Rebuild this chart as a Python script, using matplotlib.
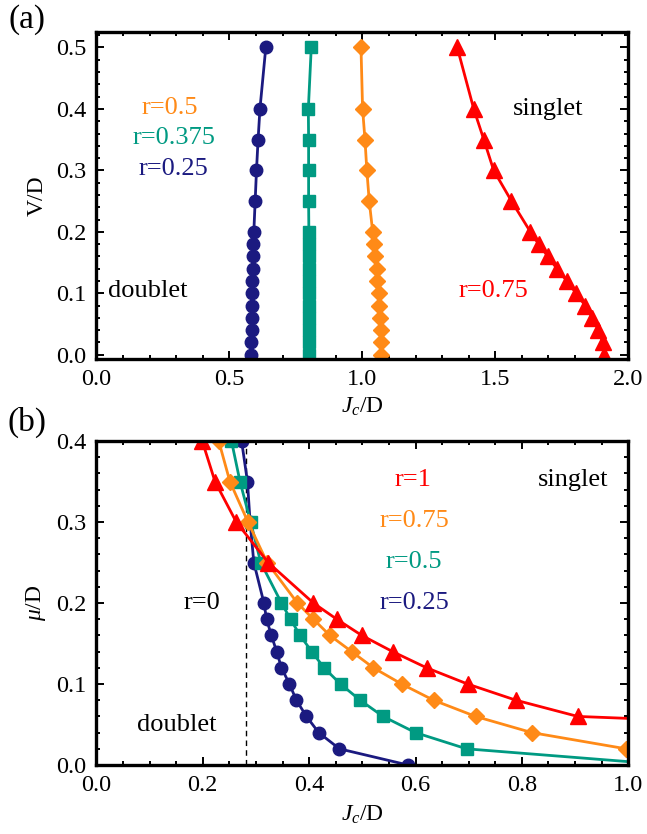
import numpy as np
import matplotlib
matplotlib.use("Agg")
import matplotlib.pyplot as plt
from matplotlib.ticker import MultipleLocator

plt.rcParams['font.family'] = ['Liberation Serif', 'DejaVu Serif']
plt.rcParams['mathtext.fontset'] = 'custom'
plt.rcParams['mathtext.rm'] = 'Liberation Serif'
plt.rcParams['mathtext.it'] = 'Liberation Serif:italic'

NAVY = '#1b1a80'
TEAL = '#009a82'
ORANGE = '#ff8a17'
RED = '#ff0000'

# ---- panel (a): V/D vs Jc/D ----
V_a = [0.0, 0.02, 0.04, 0.06, 0.08, 0.10, 0.12, 0.14, 0.16, 0.18, 0.20,
       0.25, 0.30, 0.35, 0.40, 0.50]
J_r025_a = [0.583, 0.583, 0.584, 0.584, 0.585, 0.586, 0.587, 0.588, 0.589,
            0.590, 0.592, 0.597, 0.602, 0.608, 0.615, 0.637]
J_r0375_a = [0.799, 0.799, 0.799, 0.799, 0.799, 0.799, 0.799, 0.799, 0.799,
             0.799, 0.799, 0.798, 0.798, 0.798, 0.797, 0.808]
J_r05_a = [1.072, 1.071, 1.069, 1.066, 1.064, 1.061, 1.057, 1.054, 1.049,
           1.045, 1.039, 1.026, 1.017, 1.010, 1.001, 0.995]
J_r075_a = [1.909, 1.904, 1.888, 1.865, 1.838, 1.804, 1.769, 1.732, 1.698,
            1.663, 1.632, 1.561, 1.494, 1.457, 1.419, 1.357]

# ---- panel (b): mu/D vs Jc/D ----
mu_r025 = [0.40, 0.35, 0.30, 0.25, 0.20, 0.18, 0.16, 0.14, 0.12, 0.10,
           0.08, 0.06, 0.04, 0.02, 0.0]
J_r025 = [0.273, 0.284, 0.289, 0.296, 0.315, 0.320, 0.329, 0.339, 0.348,
          0.363, 0.376, 0.395, 0.418, 0.457, 0.586]
mu_r05 = [0.40, 0.35, 0.30, 0.25, 0.20, 0.18, 0.16, 0.14, 0.12, 0.10,
          0.08, 0.06, 0.04, 0.02, 0.0]
J_r05 = [0.254, 0.270, 0.290, 0.309, 0.348, 0.365, 0.383, 0.405, 0.428,
         0.459, 0.496, 0.539, 0.600, 0.696, 1.08]
mu_r075 = [0.40, 0.35, 0.30, 0.25, 0.20, 0.18, 0.16, 0.14, 0.12, 0.10,
           0.08, 0.06, 0.04, 0.02]
J_r075 = [0.230, 0.251, 0.285, 0.321, 0.378, 0.408, 0.439, 0.480, 0.521,
          0.574, 0.634, 0.713, 0.819, 0.996]
mu_r1 = [0.40, 0.35, 0.30, 0.25, 0.20, 0.18, 0.16, 0.14, 0.12, 0.10,
         0.08, 0.06, 0.055]
J_r1 = [0.199, 0.223, 0.263, 0.323, 0.408, 0.452, 0.499, 0.557, 0.621,
        0.698, 0.789, 0.905, 1.1]
J_r0 = 0.281

fig = plt.figure(figsize=(6.47, 8.34), dpi=100)

def style(ax, xmaj, xmin, ymaj, ymin):
    for s in ax.spines.values():
        s.set_linewidth(2.4)
    ax.xaxis.set_major_locator(MultipleLocator(xmaj))
    ax.xaxis.set_minor_locator(MultipleLocator(xmin))
    ax.yaxis.set_major_locator(MultipleLocator(ymaj))
    ax.yaxis.set_minor_locator(MultipleLocator(ymin))
    ax.tick_params(which='both', direction='in', top=True, right=True,
                   labelsize=17.5, width=1.4, pad=7)
    ax.tick_params(which='major', length=6)
    ax.tick_params(which='minor', length=3)

mk = dict(lw=2, clip_on=True)

# (a)
ax1 = fig.add_axes([0.149, 0.5695, 0.822, 0.392])
ax1.plot(J_r025_a, V_a, color=NAVY, marker='o', ms=9, **mk)
ax1.plot(J_r0375_a, V_a, color=TEAL, marker='s', ms=9, **mk)
ax1.plot(J_r05_a, V_a, color=ORANGE, marker='D', ms=8, **mk)
ax1.plot(J_r075_a, V_a, color=RED, marker='^', ms=12, **mk)
ax1.set_xlim(0, 2)
ax1.set_ylim(-0.007, 0.525)
style(ax1, 0.5, 0.1, 0.1, 0.02)
ax1.xaxis.set_major_formatter(lambda v, p: f'{v:.1f}')
ax1.yaxis.set_major_formatter(lambda v, p: f'{v:.1f}')
ax1.set_xlabel('$J_c$/D', fontsize=17, labelpad=4)
ax1.set_ylabel('V/D', fontsize=17, labelpad=6)
tk = dict(fontsize=19, ha='center', va='center')
ax1.text(0.276, 0.401, 'r=0.5', color=ORANGE, **tk)
ax1.text(0.290, 0.353, 'r=0.375', color=TEAL, **tk)
ax1.text(0.290, 0.302, 'r=0.25', color=NAVY, **tk)
ax1.text(0.194, 0.103, 'doublet', color='black', **tk)
ax1.text(1.697, 0.400, 'singlet', color='black', **tk)
ax1.text(1.494, 0.103, 'r=0.75', color=RED, **tk)
fig.text(0.042, 0.976, '(a)', fontsize=24, ha='center', va='center')

# (b)
ax2 = fig.add_axes([0.149, 0.0827, 0.822, 0.3885])
ax2.axvline(J_r0, color='black', lw=1, ls=(0, (4, 3)))
ax2.plot(J_r025, mu_r025, color=NAVY, marker='o', ms=9, **mk)
ax2.plot(J_r05, mu_r05, color=TEAL, marker='s', ms=9, **mk)
ax2.plot(J_r075, mu_r075, color=ORANGE, marker='D', ms=8, **mk)
ax2.plot(J_r1, mu_r1, color=RED, marker='^', ms=12, **mk)
ax2.set_xlim(0, 1)
ax2.set_ylim(0, 0.4)
style(ax2, 0.2, 0.05, 0.1, 0.02)
ax2.xaxis.set_major_formatter(lambda v, p: f'{v:.1f}')
ax2.yaxis.set_major_formatter(lambda v, p: f'{v:.1f}')
ax2.set_xlabel('$J_c$/D', fontsize=17, labelpad=6)
ax2.set_ylabel(r'$\mu$/D', fontsize=17, labelpad=6)
ax2.text(0.596, 0.352, 'r=1', color=RED, **tk)
ax2.text(0.597, 0.301, 'r=0.75', color=ORANGE, **tk)
ax2.text(0.597, 0.251, 'r=0.5', color=TEAL, **tk)
ax2.text(0.597, 0.200, 'r=0.25', color=NAVY, **tk)
ax2.text(0.897, 0.352, 'singlet', color='black', **tk)
ax2.text(0.198, 0.200, 'r=0', color='black', **tk)
ax2.text(0.151, 0.049, 'doublet', color='black', **tk)
fig.text(0.042, 0.493, '(b)', fontsize=24, ha='center', va='center')

fig.savefig('out.png', dpi=100)
